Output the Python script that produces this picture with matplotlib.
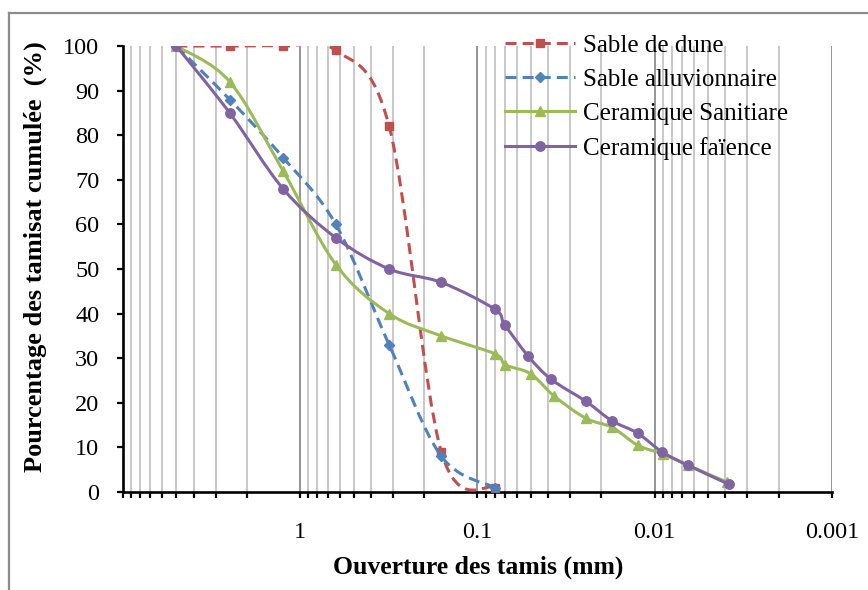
import matplotlib
matplotlib.use("Agg")
import matplotlib.pyplot as plt
from matplotlib.path import Path
from matplotlib.patches import PathPatch
from matplotlib.lines import Line2D
from matplotlib.ticker import LogLocator, FixedLocator, FixedFormatter, NullFormatter
import numpy as np

plt.rcParams['font.family'] = ['Liberation Serif', 'DejaVu Serif']

# --- data ---
sand_sizes = [5, 2.5, 1.25, 0.63, 0.315, 0.16, 0.08]
dune = [100, 100, 100, 99, 82, 9, 1]
alluv = [100, 88, 75, 60, 33, 8, 1]

sanit_sizes = [5, 2.5, 1.25, 0.63, 0.315, 0.16, 0.08, 0.0695, 0.0501, 0.0369,
               0.0244, 0.0174, 0.0125, 0.0090, 0.0065, 0.0039]
sanit = [100, 92, 72, 51, 40, 35, 31, 28.5, 26.5, 21.5, 16.5, 14.5, 10.5, 8.5, 6, 2.2]

faience_sizes = [5, 2.5, 1.25, 0.63, 0.315, 0.16, 0.08, 0.0702, 0.0518, 0.0385,
                 0.0244, 0.0175, 0.0125, 0.0091, 0.0065, 0.0038]
faience = [100, 85, 68, 57, 50, 47, 41, 37.5, 30.5, 25.3, 20.3, 16, 13.2, 9, 6, 1.7]

labels = ["Sable de dune", "Sable alluvionnaire", "Ceramique Sanitiare", "Ceramique faïence"]
colors = ["#C0504D", "#4F81BD", "#9BBB59", "#8064A2"]

x_ticks = [1, 0.1, 0.01, 0.001]
x_tick_labels = ["1", "0.1", "0.01", "0.001"]


def smooth_path(xs, ys):
    # Excel-like smoothed line: Catmull-Rom bezier in (log x, y)
    P = np.column_stack([np.log10(xs), ys])
    n = len(P)
    verts = [P[0]]
    codes = [Path.MOVETO]
    for i in range(n - 1):
        p0 = P[i - 1] if i > 0 else P[i]
        p3 = P[i + 2] if i + 2 < n else P[i + 1]
        c1 = P[i] + (P[i + 1] - p0) / 6.0
        c2 = P[i + 1] - (p3 - P[i]) / 6.0
        verts += [c1, c2, P[i + 1]]
        codes += [Path.CURVE4] * 3
    verts = np.array(verts)
    verts[:, 0] = 10 ** verts[:, 0]
    return Path(verts, codes)


fig = plt.figure(figsize=(8.68, 5.90), dpi=100)
ax = fig.add_axes([0.1417, 0.1661, 0.8168, 0.7559])

series = [
    (sand_sizes, dune, (0, (3.6, 2.0)), 's', 6.0),
    (sand_sizes, alluv, (0, (3.6, 2.0)), 'D', 4.8),
    (sanit_sizes, sanit, '-', '^', 6.8),
    (faience_sizes, faience, '-', 'o', 6.8),
]

handles = []
for k, (xs, ys, ls, mk, ms) in enumerate(series):
    patch = PathPatch(smooth_path(xs, ys), fill=False, edgecolor=colors[k],
                      linewidth=2.2, linestyle=ls, zorder=3 + k, capstyle='butt')
    ax.add_patch(patch)
    ax.plot(xs, ys, linestyle='none', marker=mk, markersize=ms,
            color=colors[k], zorder=3 + k)
    handles.append(Line2D([], [], color=colors[k], linewidth=2.2, linestyle=ls,
                          marker=mk, markersize=ms))

ax.set_xscale('log')
ax.set_xlim(10, 0.001)
ax.set_ylim(0, 100)
ax.set_yticks(np.arange(0, 101, 10))

ax.xaxis.set_major_locator(FixedLocator([10] + x_ticks))
ax.xaxis.set_major_formatter(FixedFormatter([""] + x_tick_labels))
ax.xaxis.set_minor_locator(LogLocator(base=10, subs=np.arange(2, 10), numticks=20))
ax.xaxis.set_minor_formatter(NullFormatter())

ax.grid(True, which='major', axis='x', color='#8c8c8c', linewidth=1.3)
ax.grid(True, which='minor', axis='x', color='#c4c4c4', linewidth=1.3)
ax.set_axisbelow(True)

for side in ['top', 'right']:
    ax.spines[side].set_visible(False)
for side in ['left', 'bottom']:
    ax.spines[side].set_linewidth(1.9)
    ax.spines[side].set_color('black')

ax.tick_params(axis='x', which='major', direction='out', length=4.5, width=1.6,
               pad=17, labelsize=17.5)
ax.tick_params(axis='x', which='minor', direction='out', length=4, width=1.6)
ax.tick_params(axis='y', direction='out', length=4, width=1.6, pad=13, labelsize=17.5)

ax.set_xlabel("Ouverture des tamis (mm)", fontsize=18.5, fontweight='bold')
ax.xaxis.label.set_va('center')
ax.xaxis.set_label_coords(0.501, -0.168)
ax.set_ylabel("Pourcentage des tamisat cumulée  (%)", fontsize=19, fontweight='bold')
ax.yaxis.label.set_va('center')
ax.yaxis.set_label_coords(-0.124, 0.527)

fig.legend(handles, labels, loc='upper left', bbox_to_anchor=(505 / 868, 1 - 34 / 590),
           frameon=False, fontsize=18, handlelength=2.8, handletextpad=0.32,
           labelspacing=0.47, borderpad=0, borderaxespad=0)

# outer chart border (top and left visible)
fig.add_artist(Line2D([9 / 868, 1], [1 - 13 / 590, 1 - 13 / 590],
                      color='#8c8c8c', linewidth=1.6, transform=fig.transFigure))
fig.add_artist(Line2D([9 / 868, 9 / 868], [0, 1 - 13 / 590],
                      color='#8c8c8c', linewidth=1.6, transform=fig.transFigure))

fig.savefig("out.png", dpi=100)
